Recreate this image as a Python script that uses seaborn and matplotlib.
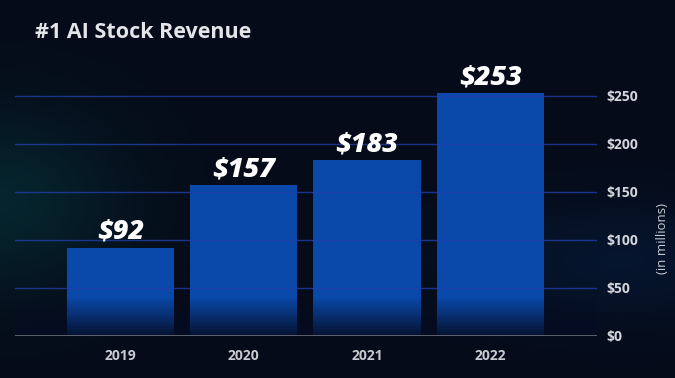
import numpy as np
import pandas as pd
import matplotlib.pyplot as plt
import seaborn as sns
from matplotlib.colors import LinearSegmentedColormap

years = ['2019', '2020', '2021', '2022']
revenue = [92, 157, 183, 253]
ytick_vals = [0, 50, 100, 150, 200, 250]
ytick_labels = ['$0', '$50', '$100', '$150', '$200', '$250']

df = pd.DataFrame({'year': years, 'revenue': revenue})

sns.set_theme(style='dark')
plt.rcParams['font.family'] = ['Open Sans', 'DejaVu Sans']

bg = '#050b19'
fig = plt.figure(figsize=(6.75, 3.78), dpi=100, facecolor=bg)

# background with a faint glow on the left
bgax = fig.add_axes([0, 0, 1, 1], zorder=0)
yy, xx = np.mgrid[0:378, 0:675]
glow = np.exp(-(((xx - 0) / 120.0) ** 2 + ((yy - 200) / 90.0) ** 2))
glow2 = np.exp(-(((xx - 620) / 160.0) ** 2 + ((yy - 260) / 60.0) ** 2))
img = np.zeros((378, 675, 3))
img[:] = np.array([5, 11, 25]) / 255.0
img += glow[..., None] * np.array([0.0, 0.10, 0.08])
img += glow2[..., None] * np.array([0.0, 0.04, 0.08])
bgax.imshow(np.clip(img, 0, 1), aspect='auto', extent=[0, 1, 0, 1])
bgax.axis('off')

ax = fig.add_axes([15 / 675, 42 / 378, 582 / 675, 266 / 378], zorder=1)
ax.set_facecolor('none')
sns.barplot(data=df, x='year', y='revenue', color='#0a48aa', saturation=1,
            width=0.87, linewidth=0, ax=ax, zorder=2)

# fade the bottom of the bars
fade = LinearSegmentedColormap.from_list('fade', [(0.02, 0.05, 0.14, 0.0), (0.02, 0.05, 0.14, 0.9)])
grad = np.linspace(0, 1, 100).reshape(-1, 1)
ax.imshow(grad, cmap=fade, aspect='auto', extent=[-0.856, 3.865, 0, 40],
          origin='upper', zorder=3)
ax.set_xlim(-0.856, 3.865)
ax.set_ylim(0, 277)

for v in ytick_vals[1:]:
    ax.axhline(v, color='#2440b0', lw=1.0, alpha=0.75, zorder=2.5)
ax.axhline(0, color='#6b6f7a', lw=1.2, zorder=4)

for i, v in enumerate(revenue):
    ax.text(i, v + 3, f'${v}', ha='center', va='bottom', color='white',
            fontsize=19.5, fontweight='heavy', fontstyle='italic', zorder=5)

ax.set_yticks(ytick_vals)
ax.set_yticklabels(ytick_labels)
ax.yaxis.tick_right()
ax.tick_params(axis='y', length=0, pad=7, labelsize=10, labelcolor='#d4d6dc')
ax.tick_params(axis='x', length=0, pad=9, labelsize=10, labelcolor='#c8cad0')
for lab in ax.get_yticklabels() + ax.get_xticklabels():
    lab.set_fontweight('bold')
ax.set_xlabel('')
ax.set_ylabel('')
for s in ax.spines.values():
    s.set_visible(False)
ax.grid(False)

fig.text(662 / 675, 1 - 238 / 378, '(in millions)', rotation=90, ha='center',
         va='center', color='#c8cad0', fontsize=9.5)
fig.text(35 / 675, 1 - 33 / 378, '#1 AI Stock Revenue', ha='left', va='center',
         color='#e4e5e8', fontsize=15.5, fontweight='bold')

fig.savefig('out.png', dpi=100, facecolor=bg)
